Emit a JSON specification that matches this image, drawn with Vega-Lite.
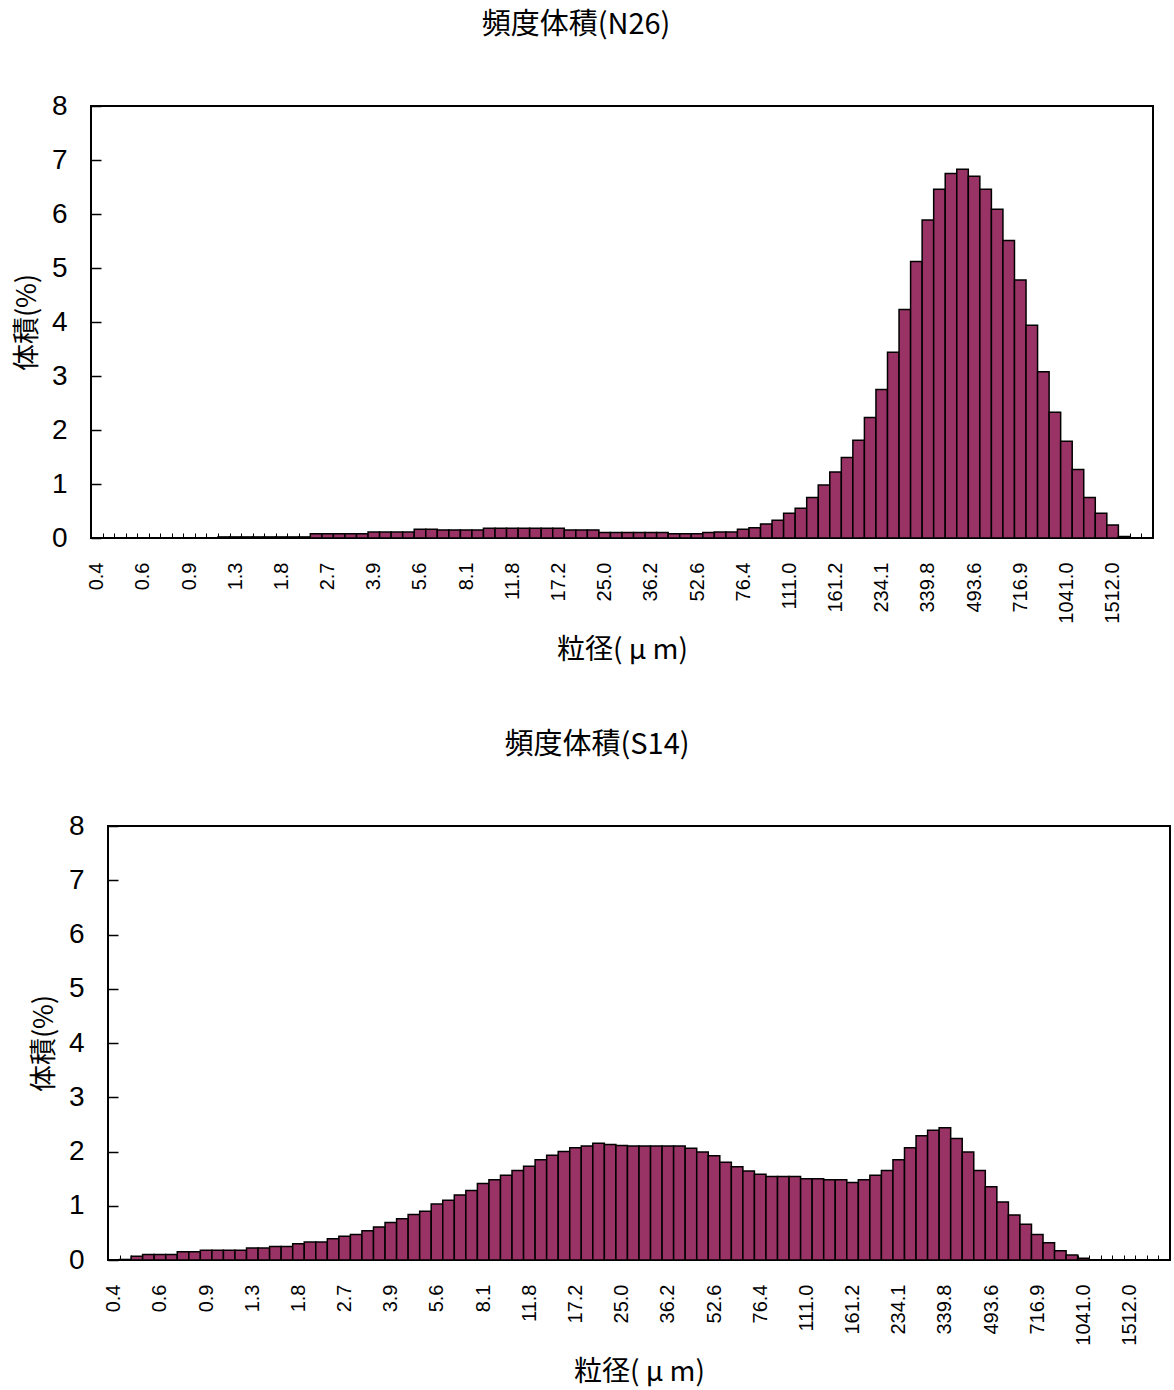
{
  "$schema": "https://vega.github.io/schema/vega-lite/v6.json",
  "background": "white",
  "padding": {"left": 12, "top": 10, "right": 0, "bottom": 0},
  "spacing": 64,
  "config": {
    "view": {"stroke": "black", "strokeWidth": 2},
    "font": "Liberation Sans",
    "title": {"font": "Noto Sans CJK JP", "fontSize": 29, "fontWeight": "normal", "color": "black", "anchor": "middle", "offset": 52},
    "axis": {"labelColor": "black", "titleColor": "black", "tickColor": "black", "titleFont": "Noto Sans CJK JP", "titleFontWeight": "normal", "grid": false, "domain": false}
  },
  "datasets": {
    "n26": [
      {"i":0,"v":0},{"i":1,"v":0},{"i":2,"v":0},{"i":3,"v":0},{"i":4,"v":0},{"i":5,"v":0},{"i":6,"v":0},{"i":7,"v":0},{"i":8,"v":0},{"i":9,"v":0},{"i":10,"v":0},
      {"i":11,"v":0.02},{"i":12,"v":0.02},{"i":13,"v":0.02},{"i":14,"v":0.02},{"i":15,"v":0.02},{"i":16,"v":0.02},{"i":17,"v":0.02},{"i":18,"v":0.02},
      {"i":19,"v":0.08},{"i":20,"v":0.08},{"i":21,"v":0.08},{"i":22,"v":0.08},{"i":23,"v":0.08},
      {"i":24,"v":0.11},{"i":25,"v":0.11},{"i":26,"v":0.11},{"i":27,"v":0.11},
      {"i":28,"v":0.16},{"i":29,"v":0.16},
      {"i":30,"v":0.15},{"i":31,"v":0.15},{"i":32,"v":0.15},{"i":33,"v":0.15},
      {"i":34,"v":0.18},{"i":35,"v":0.18},{"i":36,"v":0.18},{"i":37,"v":0.18},{"i":38,"v":0.18},{"i":39,"v":0.18},{"i":40,"v":0.18},
      {"i":41,"v":0.15},{"i":42,"v":0.15},{"i":43,"v":0.15},
      {"i":44,"v":0.10},{"i":45,"v":0.10},{"i":46,"v":0.10},{"i":47,"v":0.10},{"i":48,"v":0.10},{"i":49,"v":0.10},
      {"i":50,"v":0.08},{"i":51,"v":0.08},{"i":52,"v":0.08},
      {"i":53,"v":0.10},{"i":54,"v":0.11},{"i":55,"v":0.11},{"i":56,"v":0.16},{"i":57,"v":0.19},{"i":58,"v":0.26},{"i":59,"v":0.33},
      {"i":60,"v":0.46},{"i":61,"v":0.55},{"i":62,"v":0.75},{"i":63,"v":0.98},{"i":64,"v":1.22},{"i":65,"v":1.49},{"i":66,"v":1.81},
      {"i":67,"v":2.23},{"i":68,"v":2.75},{"i":69,"v":3.44},{"i":70,"v":4.23},{"i":71,"v":5.12},{"i":72,"v":5.89},{"i":73,"v":6.46},
      {"i":74,"v":6.75},{"i":75,"v":6.83},{"i":76,"v":6.70},{"i":77,"v":6.46},{"i":78,"v":6.09},{"i":79,"v":5.51},{"i":80,"v":4.78},
      {"i":81,"v":3.94},{"i":82,"v":3.08},{"i":83,"v":2.33},{"i":84,"v":1.79},{"i":85,"v":1.27},{"i":86,"v":0.75},{"i":87,"v":0.46},
      {"i":88,"v":0.24},{"i":89,"v":0.03},{"i":90,"v":0},{"i":91,"v":0}
    ],
    "s14": [
      {"i":0,"v":0},{"i":1,"v":0.01},{"i":2,"v":0.07},{"i":3,"v":0.10},{"i":4,"v":0.10},{"i":5,"v":0.10},{"i":6,"v":0.15},{"i":7,"v":0.15},
      {"i":8,"v":0.18},{"i":9,"v":0.18},{"i":10,"v":0.18},{"i":11,"v":0.18},{"i":12,"v":0.22},{"i":13,"v":0.22},{"i":14,"v":0.25},{"i":15,"v":0.25},
      {"i":16,"v":0.30},{"i":17,"v":0.33},{"i":18,"v":0.33},{"i":19,"v":0.39},{"i":20,"v":0.44},{"i":21,"v":0.47},{"i":22,"v":0.54},{"i":23,"v":0.61},
      {"i":24,"v":0.69},{"i":25,"v":0.76},{"i":26,"v":0.84},{"i":27,"v":0.90},{"i":28,"v":1.03},{"i":29,"v":1.10},{"i":30,"v":1.20},{"i":31,"v":1.28},
      {"i":32,"v":1.41},{"i":33,"v":1.48},{"i":34,"v":1.56},{"i":35,"v":1.65},{"i":36,"v":1.73},{"i":37,"v":1.85},{"i":38,"v":1.93},{"i":39,"v":2.00},
      {"i":40,"v":2.07},{"i":41,"v":2.10},{"i":42,"v":2.15},{"i":43,"v":2.13},{"i":44,"v":2.11},{"i":45,"v":2.10},{"i":46,"v":2.10},{"i":47,"v":2.10},
      {"i":48,"v":2.10},{"i":49,"v":2.10},{"i":50,"v":2.06},{"i":51,"v":1.99},{"i":52,"v":1.92},{"i":53,"v":1.80},{"i":54,"v":1.72},{"i":55,"v":1.64},
      {"i":56,"v":1.58},{"i":57,"v":1.54},{"i":58,"v":1.54},{"i":59,"v":1.54},{"i":60,"v":1.50},{"i":61,"v":1.50},{"i":62,"v":1.48},{"i":63,"v":1.48},
      {"i":64,"v":1.43},{"i":65,"v":1.48},{"i":66,"v":1.56},{"i":67,"v":1.65},{"i":68,"v":1.85},{"i":69,"v":2.07},{"i":70,"v":2.29},{"i":71,"v":2.39},
      {"i":72,"v":2.44},{"i":73,"v":2.24},{"i":74,"v":1.99},{"i":75,"v":1.65},{"i":76,"v":1.35},{"i":77,"v":1.07},{"i":78,"v":0.83},{"i":79,"v":0.66},
      {"i":80,"v":0.47},{"i":81,"v":0.32},{"i":82,"v":0.17},{"i":83,"v":0.09},{"i":84,"v":0.03},{"i":85,"v":0},{"i":86,"v":0},{"i":87,"v":0},
      {"i":88,"v":0},{"i":89,"v":0},{"i":90,"v":0},{"i":91,"v":0}
    ]
  },
  "vconcat": [
    {
      "title": {"text": "頻度体積(N26)", "dx": -46},
      "width": 1062,
      "height": 432,
      "data": {"name": "n26"},
      "mark": {"type": "bar", "fill": "#993366", "stroke": "black", "strokeWidth": 1.5},
      "encoding": {
        "x": {
          "field": "i", "type": "ordinal", "title": "粒径( μ m)",
          "scale": {"paddingInner": 0, "paddingOuter": 0},
          "axis": {
            "labelExpr": "datum.value % 4 == 0 ? ['0.4','0.6','0.9','1.3','1.8','2.7','3.9','5.6','8.1','11.8','17.2','25.0','36.2','52.6','76.4','111.0','161.2','234.1','339.8','493.6','716.9','1041.0','1512.0'][datum.value / 4] : ''",
            "labelAngle": -90, "labelAlign": "right", "labelBaseline": "middle", "labelFontSize": 20, "labelPadding": 29, "labelOverlap": false,
            "tickBand": "extent", "tickSize": -5, "tickWidth": 1,
            "titleFontSize": 28, "titlePadding": 13
          }
        },
        "y": {
          "field": "v", "type": "quantitative", "title": "体積(%)",
          "scale": {"domain": [0, 8], "nice": false},
          "axis": {"values": [0,1,2,3,4,5,6,7,8], "labelFontSize": 28, "labelPadding": 34, "tickSize": -10, "tickWidth": 1.5, "titleFontSize": 27, "titlePadding": 10}
        }
      }
    },
    {
      "spacing": -63,
      "hconcat": [
        {
          "width": 1,
          "height": 434,
          "view": {"stroke": null},
          "data": {"values": [{}]},
          "mark": {"type": "point", "opacity": 0, "size": 1},
          "encoding": {}
        },
        {
          "title": {"text": "頻度体積(S14)", "dx": -42},
          "width": 1062,
          "height": 434,
          "data": {"name": "s14"},
          "mark": {"type": "bar", "fill": "#993366", "stroke": "black", "strokeWidth": 1.5},
          "encoding": {
            "x": {
              "field": "i", "type": "ordinal", "title": "粒径( μ m)",
              "scale": {"paddingInner": 0, "paddingOuter": 0},
              "axis": {
                "labelExpr": "datum.value % 4 == 0 ? ['0.4','0.6','0.9','1.3','1.8','2.7','3.9','5.6','8.1','11.8','17.2','25.0','36.2','52.6','76.4','111.0','161.2','234.1','339.8','493.6','716.9','1041.0','1512.0'][datum.value / 4] : ''",
                "labelAngle": -90, "labelAlign": "right", "labelBaseline": "middle", "labelFontSize": 20, "labelPadding": 29, "labelOverlap": false,
                "tickBand": "extent", "tickSize": -5, "tickWidth": 1,
                "titleFontSize": 28, "titlePadding": 13
              }
            },
            "y": {
              "field": "v", "type": "quantitative", "title": "体積(%)",
              "scale": {"domain": [0, 8], "nice": false},
              "axis": {"values": [0,1,2,3,4,5,6,7,8], "labelFontSize": 28, "labelPadding": 34, "tickSize": -10, "tickWidth": 1.5, "titleFontSize": 27, "titlePadding": 10}
            }
          }
        }
      ]
    }
  ]
}
